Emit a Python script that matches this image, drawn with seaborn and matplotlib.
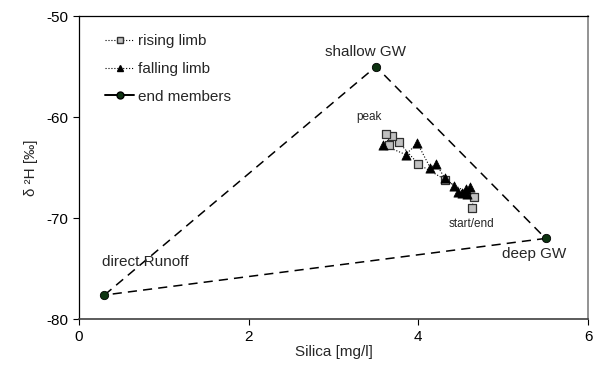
import matplotlib
matplotlib.use("Agg")
import matplotlib.pyplot as plt
import seaborn as sns
from matplotlib.lines import Line2D

# --- data ---
rising_si = [4.63, 4.66, 4.32, 4.00, 3.77, 3.69, 3.62, 3.65]
rising_h2 = [-68.95, -67.9, -66.2, -64.65, -62.5, -61.85, -61.7, -62.8]

falling_si = [3.58, 3.85, 3.99, 4.14, 4.21, 4.31, 4.42, 4.47, 4.56, 4.61, 4.57, 4.52]
falling_h2 = [-62.75, -63.7, -62.6, -65.0, -64.65, -66.0, -66.8, -67.45, -67.1, -66.9, -67.6, -67.5]

em_names = ["direct Runoff", "shallow GW", "deep GW"]
em_si = [0.3, 3.5, 5.5]
em_h2 = [-77.6, -55.0, -72.0]

sns.set_style("ticks")
plt.rcParams["font.family"] = ["Liberation Sans", "DejaVu Sans"]
plt.rcParams["axes.unicode_minus"] = False

fig = plt.figure(figsize=(5.93, 3.76), dpi=100)
ax = fig.add_axes([0.1332, 0.1508, 0.9916 - 0.1332, 0.9574 - 0.1508])

# end-member mixing triangle
tri_x = em_si + [em_si[0]]
tri_y = em_h2 + [em_h2[0]]
sns.lineplot(x=tri_x, y=tri_y, sort=False, ax=ax, color="black",
             linestyle=(0, (6, 4)), linewidth=1.1, estimator=None)
sns.scatterplot(x=em_si, y=em_h2, ax=ax, color="#0d3311", edgecolor="black",
                s=36, linewidth=0.6, zorder=5)

sns.lineplot(x=rising_si, y=rising_h2, sort=False, ax=ax, color="black",
             linestyle=":", linewidth=0.8, estimator=None)
sns.lineplot(x=falling_si, y=falling_h2, sort=False, ax=ax, color="black",
             linestyle=":", linewidth=0.8, estimator=None)
sns.scatterplot(x=falling_si, y=falling_h2, ax=ax, marker="^", color="black",
                edgecolor="black", s=44, zorder=4)
sns.scatterplot(x=rising_si, y=rising_h2, ax=ax, marker="s", color="#c0c0c0",
                edgecolor="#303030", s=28, linewidth=0.9, zorder=3)

# annotations
fs = 11
ax.text(0.78, -74.3, "direct Runoff", ha="center", va="center", fontsize=fs)
ax.text(3.38, -53.6, "shallow GW", ha="center", va="center", fontsize=fs)
ax.text(5.36, -73.5, "deep GW", ha="center", va="center", fontsize=fs)
ax.text(3.42, -60.0, "peak", ha="center", va="center", fontsize=8.5)
ax.text(4.63, -70.6, "start/end", ha="center", va="center", fontsize=8.5)

ax.set_xlim(0, 6)
ax.set_ylim(-80, -50)
ax.set_xticks([0, 2, 4, 6])
ax.set_yticks([-80, -70, -60, -50])
ax.set_xlabel("Silica [mg/l]", fontsize=fs, labelpad=1)
ax.set_ylabel("δ ²H [‰]", fontsize=fs, labelpad=6)
ax.tick_params(labelsize=fs, length=4, width=0.8, colors="black")
for side in ["left", "top"]:
    ax.spines[side].set_color("black")
    ax.spines[side].set_linewidth(0.9)
ax.spines["bottom"].set_color("#404040")
ax.spines["bottom"].set_linewidth(1.2)
ax.spines["right"].set_color("#808080")
ax.spines["right"].set_linewidth(1.2)

handles = [
    Line2D([], [], color="black", linestyle=":", linewidth=0.8, marker="s",
           markerfacecolor="#c0c0c0", markeredgecolor="#303030", markersize=5),
    Line2D([], [], color="black", linestyle=":", linewidth=0.8, marker="^",
           markerfacecolor="black", markeredgecolor="black", markersize=5),
    Line2D([], [], color="black", linestyle="-", linewidth=1.4, marker="o",
           markerfacecolor="#0d3311", markeredgecolor="black", markersize=5),
]
ax.legend(handles, ["rising limb", "falling limb", "end members"],
          loc="upper left", bbox_to_anchor=(0.025, 0.985), frameon=False,
          fontsize=fs, handlelength=1.9, handletextpad=0.25, labelspacing=0.9)

fig.savefig("out.png", dpi=100)
